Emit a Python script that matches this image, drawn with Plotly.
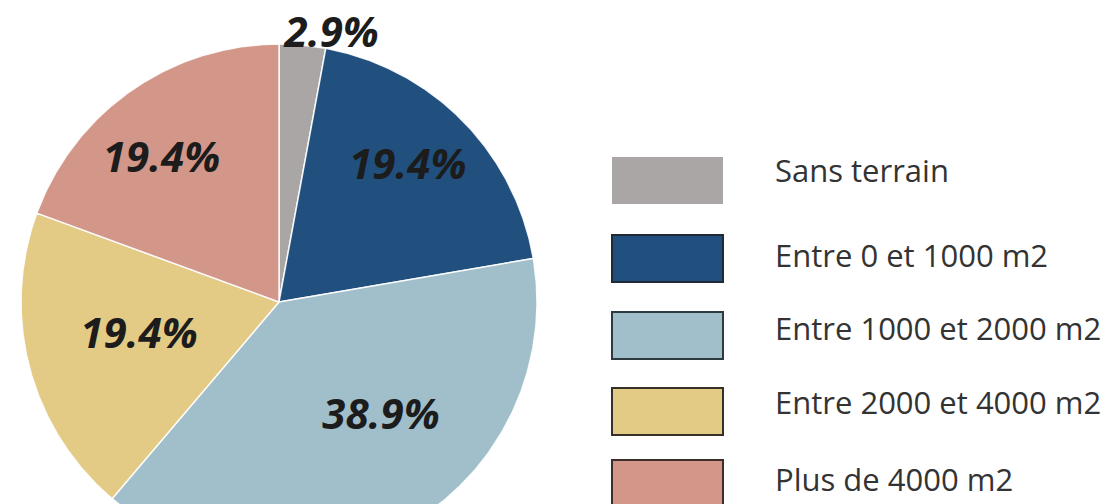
import numpy as np
import plotly.graph_objects as go

# Répartition des logements selon la surface de terrain
categories = [
    "Sans terrain",
    "Entre 0 et 1000 m2",
    "Entre 1000 et 2000 m2",
    "Entre 2000 et 4000 m2",
    "Plus de 4000 m2",
]
shares = [2.9, 19.4, 38.9, 19.4, 19.4]  # en %

colors = ["#a9a6a5", "#21507f", "#a0bfcb", "#e3cb85", "#d3978a"]
swatch_borders = ["rgba(0,0,0,0)", "#1f2a36", "#2d3a40", "#35312a", "#3a2f2a"]

# Geometry of the pie (pixel space: x right, y down)
W, H = 1107, 504
CX, CY, R = 279, 302, 258
label_radius = [1.05, 0.72, 0.60, 0.56, 0.71]
label_angle_shift = [6.0, -1.5, -11.5, 0.5, -5.0]

# Legend layout
LEG_X0, LEG_X1 = 612, 723
LEG_TOPS = [157, 235, 312, 388, 460]
LEG_H = 47
LEG_TEXT_X = 773
LEG_TEXT_Y = [170, 255, 328, 402, 479]

fig = go.Figure()

total = float(sum(shares))
start = 0.0
mids = []
for name, val, col in zip(categories, shares, colors):
    span = 360.0 * val / total
    th = np.radians(np.linspace(start, start + span, 240))
    xs = np.concatenate([[CX], CX + R * np.sin(th), [CX]])
    ys = np.concatenate([[CY], CY - R * np.cos(th), [CY]])
    fig.add_trace(go.Scatter(
        x=xs, y=ys, mode="lines", fill="toself", fillcolor=col,
        line=dict(color="rgba(255,255,255,0.9)", width=1.5),
        name=name, hoverinfo="name", showlegend=False,
    ))
    mids.append(start + span / 2)
    start += span

# Percentage labels
lx, ly, lt = [], [], []
for val, mid, rf, shift in zip(shares, mids, label_radius, label_angle_shift):
    a = np.radians(mid + shift)
    lx.append(CX + rf * R * np.sin(a))
    ly.append(CY - rf * R * np.cos(a))
    lt.append(f"<b><i>{val:.1f}%</i></b>")
fig.add_trace(go.Scatter(
    x=lx, y=ly, mode="text", text=lt, textposition="middle center",
    textfont=dict(family="Open Sans", size=42, color="#1c1c1c"),
    hoverinfo="skip", showlegend=False,
))

# Legend: colour swatches and labels
shapes = []
annotations = []
for name, col, bcol, top, ty in zip(categories, colors, swatch_borders, LEG_TOPS, LEG_TEXT_Y):
    shapes.append(dict(
        type="rect", xref="x", yref="y",
        x0=LEG_X0, x1=LEG_X1, y0=top, y1=top + LEG_H,
        fillcolor=col, line=dict(color=bcol, width=2),
    ))
    annotations.append(dict(
        x=LEG_TEXT_X, y=ty, xref="x", yref="y", text=name,
        showarrow=False, xanchor="left", yanchor="middle",
        font=dict(family="Open Sans", size=31, color="#333333"),
    ))

fig.update_layout(
    width=W, height=H,
    margin=dict(l=0, r=0, t=0, b=0),
    paper_bgcolor="white", plot_bgcolor="white",
    xaxis=dict(range=[0, W], visible=False, fixedrange=True),
    yaxis=dict(range=[H, 0], visible=False, fixedrange=True),
    shapes=shapes, annotations=annotations,
    showlegend=False,
)

fig.write_html("out.html")
